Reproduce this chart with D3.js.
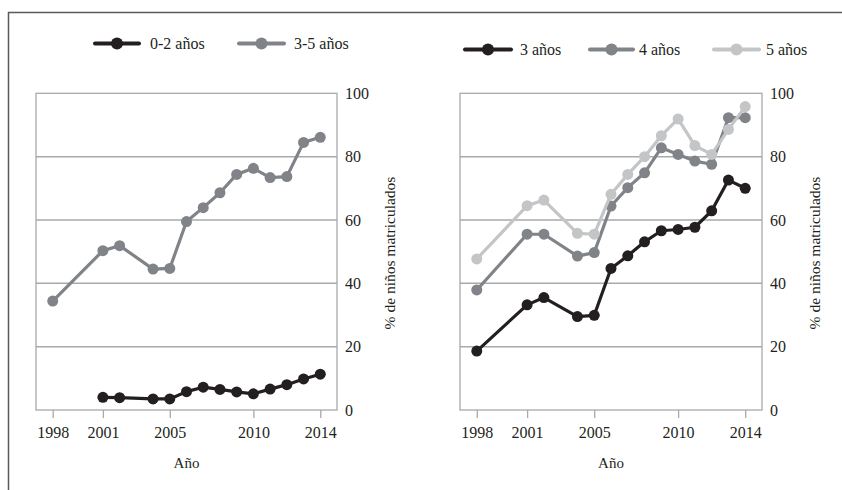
<!DOCTYPE html>
<html>
<head>
<meta charset="utf-8">
<script src="https://cdn.jsdelivr.net/npm/d3@7"></script>
<style>
  body { margin: 0; background: #fff; }
  svg, svg text { font-family: "Liberation Serif", "Times New Roman", Times, Tinos, "DejaVu Serif", "Noto Serif", Georgia, serif; }
</style>
</head>
<body>
<svg id="chart" width="842" height="490"></svg>
<script>
// data
const years = [1998, 2001, 2002, 2004, 2005, 2006, 2007, 2008, 2009, 2010, 2011, 2012, 2013, 2014];
const yearTicks = [1998, 2001, 2005, 2010, 2014];
const pctTicks = [0, 20, 40, 60, 80, 100];

// left panel (null = no value)
const age0to2 = [null, 4.0, 3.9, 3.5, 3.5, 5.8, 7.2, 6.5, 5.7, 5.1, 6.6, 8.0, 9.8, 11.3];
const age3to5 = [34.4, 50.3, 51.9, 44.5, 44.7, 59.5, 63.9, 68.6, 74.4, 76.3, 73.4, 73.7, 84.5, 86.1];

// right panel
const age3 = [18.6, 33.2, 35.5, 29.5, 29.9, 44.7, 48.7, 53.1, 56.6, 57.0, 57.7, 62.9, 72.6, 70.0];
const age4 = [37.9, 55.5, 55.5, 48.6, 49.7, 64.4, 70.2, 74.9, 82.8, 80.7, 78.6, 77.6, 92.3, 92.3];
const age5 = [47.7, 64.5, 66.3, 55.8, 55.5, 68.1, 74.4, 80.0, 86.6, 91.9, 83.5, 80.7, 88.6, 95.8];

const black = "#231f20", mid = "#808387", light = "#c3c5c7";

const svg = d3.select("#chart");

// outer frame (top + left only)
svg.append("path")
  .attr("d", "M8.5,490 L8.5,12.5 L842,12.5")
  .attr("fill", "none")
  .attr("stroke", "#5a5a5a")
  .attr("stroke-width", 1.5);

function panel(left, right, series, legendY, legendItems) {
  const top = 93.3, bottom = 410;
  const g = svg.append("g");

  const x = d3.scaleLinear().domain([1997, 2015]).range([left, right]);
  const y = d3.scaleLinear().domain([0, 100]).range([bottom, top]);

  // grid
  g.append("g")
    .selectAll("line")
    .data(pctTicks.filter(d => d > 0 && d < 100))
    .join("line")
    .attr("x1", left).attr("x2", right)
    .attr("y1", d => y(d)).attr("y2", d => y(d))
    .attr("stroke", "#a7a9ab").attr("stroke-width", 1.5);

  // plot frame
  g.append("rect")
    .attr("x", left).attr("y", top)
    .attr("width", right - left).attr("height", bottom - top)
    .attr("fill", "none").attr("stroke", "#a7a9ab").attr("stroke-width", 1.3);

  // x axis
  const xa = g.append("g")
    .attr("transform", `translate(0,${bottom})`)
    .call(d3.axisBottom(x).tickValues(yearTicks).tickFormat(d3.format("d")).tickSize(8).tickPadding(9))
    .attr("font-family", null).attr("font-size", 16);
  xa.select(".domain").remove();
  xa.selectAll("line").attr("stroke", "#a7a9ab").attr("stroke-width", 1.3);
  xa.selectAll("text").attr("fill", "#231f20");

  // y axis on the right
  const ya = g.append("g")
    .attr("transform", `translate(${right},0)`)
    .call(d3.axisRight(y).tickValues(pctTicks).tickSize(0).tickPadding(8))
    .attr("font-family", null).attr("font-size", 16);
  ya.select(".domain").remove();
  ya.selectAll("text").attr("fill", "#231f20");

  // axis titles
  g.append("text")
    .attr("x", (left + right) / 2).attr("y", 468)
    .attr("text-anchor", "middle").attr("font-size", 15).attr("fill", "#231f20")
    .text("Año");
  g.append("text")
    .attr("transform", `translate(${right + 58},253) rotate(-90)`)
    .attr("text-anchor", "middle").attr("font-size", 15.5).attr("fill", "#231f20")
    .text("% de niños matriculados");

  // lines + markers
  const line = d3.line()
    .defined(d => d[1] != null)
    .x(d => x(d[0])).y(d => y(d[1]));

  series.forEach(s => {
    const pts = years.map((yr, i) => [yr, s.values[i]]);
    const sg = g.append("g");
    sg.append("path")
      .datum(pts)
      .attr("d", line)
      .attr("fill", "none")
      .attr("stroke", s.color)
      .attr("stroke-width", 3.2)
      .attr("stroke-linejoin", "round");
    sg.selectAll("circle")
      .data(pts.filter(d => d[1] != null))
      .join("circle")
      .attr("cx", d => x(d[0])).attr("cy", d => y(d[1]))
      .attr("r", 5.5)
      .attr("fill", s.color);
  });

  // legend
  const lg = g.append("g");
  legendItems.forEach(it => {
    const idx = series.findIndex(s => s.name === it.name);
    const c = series[idx].color;
    lg.append("line")
      .attr("x1", it.x1).attr("x2", it.x2)
      .attr("y1", legendY).attr("y2", legendY)
      .attr("stroke", c).attr("stroke-width", 4).attr("stroke-linecap", "round");
    lg.append("circle")
      .attr("cx", (it.x1 + it.x2) / 2).attr("cy", legendY)
      .attr("r", 6).attr("fill", c);
    lg.append("text")
      .attr("x", it.tx).attr("y", legendY)
      .attr("dy", "0.33em")
      .attr("font-size", 16).attr("fill", "#231f20")
      .text(it.name);
  });
}

panel(36, 337,
  [
    { name: "0-2 años", values: age0to2, color: black },
    { name: "3-5 años", values: age3to5, color: mid }
  ],
  43.5,
  [
    { name: "0-2 años", x1: 95, x2: 139, tx: 150 },
    { name: "3-5 años", x1: 239, x2: 284, tx: 294 }
  ]);

panel(460, 762,
  [
    { name: "3 años", values: age3, color: black },
    { name: "4 años", values: age4, color: mid },
    { name: "5 años", values: age5, color: light }
  ],
  49.5,
  [
    { name: "3 años", x1: 465, x2: 511, tx: 520 },
    { name: "4 años", x1: 590, x2: 633, tx: 639 },
    { name: "5 años", x1: 714, x2: 759, tx: 766 }
  ]);
</script>
</body>
</html>
